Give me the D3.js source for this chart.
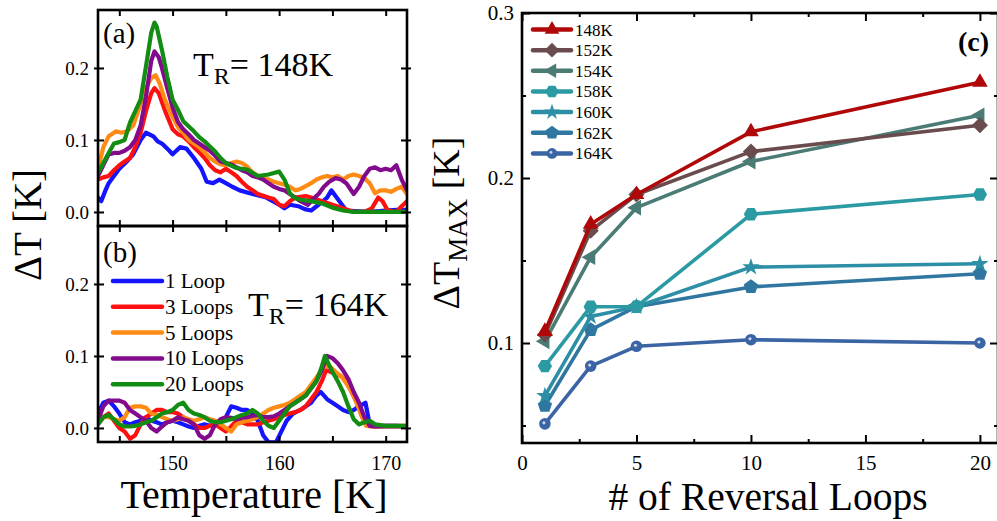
<!DOCTYPE html>
<html><head><meta charset="utf-8">
<script src="https://cdn.jsdelivr.net/npm/d3@7"></script>
<style>body{margin:0;background:#fff}svg{display:block}text{font-family:"Liberation Serif","Times New Roman",serif;fill:#000}</style>
</head><body><svg id="c" width="997" height="521"></svg>
<script>
// ---------- Panel (a)/(b) data: [T (K), ΔT (K)] ----------
const loopLabels = ["1 Loop","3 Loops","5 Loops","10 Loops","20 Loops"];
const loopColors = ["#1414ff","#ff1010","#ff8a14","#820a8c","#138c13"];
const xTicksAB = [145,150,155,160,165,170];
const xLabelsAB = [150,160,170];
const yTicksAB = [0.0,0.1,0.2];

const a_1Loop = [[143,0.02],[143.3,0.015],[143.7,0.03],[144,0.04],[144.5,0.05],[145,0.06],[145.7,0.07],[146.3,0.08],[147,0.1],[147.5,0.11],[148.2,0.105],[148.6,0.098],[149,0.095],[149.7,0.085],[150,0.08],[150.7,0.09],[151.3,0.088],[152,0.075],[152.7,0.06],[153.2,0.042],[153.8,0.04],[154.4,0.045],[155,0.04],[155.6,0.035],[156.3,0.03],[157.5,0.025],[158.8,0.02],[160,0.01],[160.5,0.005],[161,0.01],[161.8,0.008],[162.4,0.004],[163,0.002],[163.7,0.01],[164.5,0.02],[164.9,0.03],[165.5,0.018],[166.3,0.002],[167.5,0.001],[168.5,0.0],[170,0.002],[171,0.003],[172,0.003]];
const a_3Loops = [[143,0.045],[143.5,0.048],[144,0.05],[144.5,0.058],[145,0.065],[145.5,0.07],[146,0.075],[146.5,0.09],[147,0.11],[147.5,0.14],[148,0.165],[148.3,0.172],[148.7,0.165],[149.3,0.14],[150,0.115],[150.5,0.108],[151,0.105],[151.5,0.098],[152,0.09],[152.5,0.083],[153,0.075],[153.5,0.065],[154,0.058],[154.5,0.055],[155,0.06],[155.5,0.055],[156,0.05],[156.5,0.042],[157,0.035],[157.5,0.03],[158,0.025],[159,0.02],[159.5,0.018],[160,0.01],[160.5,0.008],[161,0.015],[161.5,0.02],[162.5,0.022],[163,0.02],[164,0.015],[165,0.01],[166,0.005],[167,0.0],[168,0.0],[168.7,0.005],[169.3,0.02],[169.7,0.015],[170.2,0.002],[171,0.0],[171.5,0.008],[172,0.015]];
const a_5Loops = [[143,0.06],[143.5,0.09],[144,0.105],[144.7,0.112],[145.2,0.11],[145.7,0.112],[146.3,0.12],[147,0.15],[147.5,0.172],[148,0.186],[148.4,0.19],[148.8,0.178],[149.3,0.155],[149.8,0.138],[150.5,0.118],[151,0.11],[151.5,0.1],[152,0.095],[152.5,0.09],[153,0.083],[153.5,0.075],[154,0.07],[154.5,0.066],[155,0.065],[155.5,0.068],[156,0.07],[156.5,0.068],[157,0.063],[157.5,0.055],[158,0.05],[158.5,0.048],[159,0.045],[159.5,0.042],[160,0.04],[160.5,0.038],[161,0.035],[161.5,0.03],[162,0.032],[162.5,0.036],[163,0.04],[163.5,0.045],[164,0.048],[164.5,0.05],[165,0.048],[165.5,0.05],[166,0.045],[166.5,0.05],[167,0.052],[167.5,0.05],[168,0.047],[168.5,0.04],[169,0.026],[169.5,0.03],[170,0.03],[170.5,0.028],[171,0.032],[171.5,0.035],[172,0.025]];
const a_10Loops = [[143,0.05],[143.5,0.065],[144,0.08],[144.5,0.082],[145,0.082],[145.5,0.085],[146,0.09],[146.5,0.1],[147,0.12],[147.5,0.16],[148,0.21],[148.3,0.223],[148.7,0.215],[149,0.2],[149.5,0.172],[150,0.145],[150.5,0.125],[151,0.115],[151.5,0.108],[152,0.1],[152.5,0.095],[153,0.09],[153.5,0.085],[154,0.078],[154.5,0.07],[155,0.068],[155.5,0.066],[156,0.062],[156.5,0.058],[157,0.055],[157.5,0.05],[158,0.048],[158.5,0.045],[159,0.04],[159.5,0.035],[160,0.032],[160.5,0.03],[161,0.025],[161.5,0.02],[162,0.015],[162.7,0.01],[163.2,0.018],[163.7,0.025],[164.2,0.035],[164.7,0.042],[165.3,0.047],[165.8,0.045],[166.3,0.04],[167,0.025],[167.5,0.035],[168,0.05],[168.5,0.06],[169,0.062],[169.5,0.058],[170,0.06],[170.5,0.058],[171,0.065],[171.5,0.045],[172,0.03]];
const a_20Loops = [[143,0.054],[143.5,0.068],[144,0.082],[144.5,0.095],[145,0.097],[145.5,0.1],[146,0.124],[146.5,0.14],[147,0.156],[147.5,0.202],[148,0.249],[148.3,0.263],[148.5,0.258],[149,0.225],[149.5,0.188],[150,0.156],[150.5,0.142],[151,0.126],[151.5,0.119],[152,0.112],[152.5,0.104],[153,0.098],[153.5,0.091],[154,0.084],[154.5,0.075],[155,0.068],[156,0.061],[157,0.059],[158,0.05],[159,0.052],[159.5,0.054],[160,0.056],[160.5,0.045],[161,0.026],[161.5,0.019],[162,0.017],[163,0.015],[164,0.012],[165,0.006],[166,0.002],[167,0.0],[168,0.0],[169,0.0],[170,0.0],[171,0.0],[172,0.0]];

const b_1Loop = [[143,0.02],[143.5,0.035],[144,0.038],[144.5,0.03],[145,0.02],[145.5,0.008],[146,0.005],[146.5,0.008],[147,0.01],[147.5,0.015],[148,0.01],[148.5,0.008],[149,0.005],[149.5,0.008],[150,0.01],[150.5,0.008],[151,0.005],[151.5,0.002],[152,0.0],[152.5,0.003],[153,0.005],[153.5,0.003],[154,0.005],[154.5,0.01],[155,0.015],[155.5,0.03],[156,0.028],[156.5,0.025],[157,0.025],[157.5,0.02],[158,0.01],[158.5,-0.01],[159,-0.02],[159.7,-0.02],[160.2,-0.005],[160.7,0.01],[161.3,0.02],[162,0.025],[162.5,0.03],[163,0.035],[163.5,0.045],[163.9,0.05],[164.5,0.04],[165,0.035],[165.5,0.03],[166,0.025],[166.5,0.022],[167,0.025],[167.5,0.03],[168.1,0.035],[168.5,0.005],[169,0.003],[170,0.003],[171,0.003],[172,0.002]];
const b_3Loops = [[143,0.005],[143.5,0.015],[144,0.02],[144.5,0.01],[145,0.0],[145.5,-0.005],[146,-0.015],[146.5,-0.01],[147,0.005],[147.5,0.015],[148,0.02],[148.5,0.025],[149,0.025],[149.5,0.022],[150,0.022],[150.5,0.02],[151,0.015],[151.5,0.01],[152,0.005],[152.5,0.0],[153,0.0],[153.5,0.003],[154,0.005],[154.5,0.0],[155,-0.005],[155.5,0.002],[156,0.01],[156.5,0.008],[157,0.005],[157.5,0.005],[158,0.005],[158.5,0.008],[159,0.01],[159.5,0.012],[160,0.015],[160.5,0.018],[161,0.02],[161.5,0.022],[162,0.025],[162.5,0.03],[163,0.04],[163.5,0.05],[164,0.065],[164.4,0.08],[164.8,0.078],[165.3,0.075],[165.8,0.072],[166.3,0.065],[166.8,0.05],[167.3,0.035],[167.8,0.015],[168.2,0.003],[169,0.002],[170,0.003],[172,0.003]];
const b_5Loops = [[143,0.01],[143.5,0.015],[144,0.015],[144.5,0.012],[145,0.01],[145.5,0.015],[146,0.028],[146.5,0.03],[147,0.03],[147.5,0.028],[148,0.02],[148.5,0.018],[149,0.015],[149.5,0.012],[150,0.01],[150.5,0.012],[151,0.015],[151.5,0.012],[152,0.01],[152.5,0.012],[153,0.015],[153.5,0.012],[154,0.01],[154.5,0.005],[155,0.0],[155.5,-0.005],[156,0.005],[156.5,0.008],[157,0.01],[157.5,0.012],[158,0.015],[158.5,0.02],[159,0.025],[159.5,0.028],[160,0.03],[160.5,0.032],[161,0.035],[161.5,0.04],[162,0.045],[162.5,0.05],[163,0.06],[163.5,0.07],[164,0.08],[164.4,0.088],[164.8,0.085],[165.3,0.078],[165.8,0.072],[166.3,0.062],[166.9,0.048],[167.4,0.03],[167.8,0.015],[168.2,0.003],[169,0.002],[170,0.002],[172,0.002]];
const b_10Loops = [[143,0.01],[143.5,0.03],[144,0.038],[144.5,0.038],[145,0.038],[145.5,0.035],[146,0.025],[146.5,0.02],[147,0.015],[147.5,0.01],[148,0.0],[148.5,-0.005],[149,0.002],[149.5,0.008],[150,0.01],[150.5,0.015],[151,0.012],[151.5,0.01],[152,0.005],[152.5,-0.01],[153,-0.015],[153.5,-0.01],[154,0.005],[154.5,0.012],[155,0.015],[155.5,0.014],[156,0.012],[156.5,0.014],[157,0.015],[157.5,0.017],[158,0.018],[158.5,0.015],[159,0.015],[159.5,0.016],[160,0.02],[160.5,0.025],[161,0.03],[161.5,0.035],[162,0.04],[162.5,0.045],[163,0.055],[163.5,0.065],[164,0.08],[164.5,0.1],[165,0.097],[165.5,0.09],[166,0.08],[166.5,0.068],[167,0.05],[167.5,0.035],[168,0.015],[168.5,0.003],[169,0.002],[170,0.002],[172,0.002]];
const b_20Loops = [[143,0.005],[143.5,0.015],[144,0.018],[144.5,0.012],[145,0.005],[145.5,0.002],[146,0.002],[146.5,0.003],[147,0.005],[147.5,0.008],[148,0.01],[148.5,0.015],[149,0.02],[149.5,0.022],[150,0.025],[150.5,0.032],[151,0.035],[151.5,0.025],[152,0.02],[152.5,0.018],[153,0.015],[153.5,0.01],[154,0.008],[154.5,0.008],[155,0.01],[155.5,0.012],[156,0.015],[156.5,0.018],[157,0.02],[157.5,0.025],[158,0.02],[158.5,0.01],[159,0.003],[159.5,0.0],[160,0.01],[160.5,0.02],[161,0.03],[161.5,0.035],[162,0.04],[162.5,0.045],[163,0.055],[163.5,0.065],[164,0.085],[164.3,0.1],[164.6,0.09],[165,0.078],[165.5,0.065],[166,0.05],[166.5,0.03],[167,0.012],[167.5,0.005],[168,0.008],[168.5,0.01],[169,0.005],[170,0.003],[171,0.003],[172,0.003]];

// ---------- Panel (c) data ----------
const loops = [1,3,5,10,20];
const tempLabels = ["148K","152K","154K","158K","160K","162K","164K"];
const tempColors = ["#b00808","#6a4c4e","#4a7b75","#2b9aa2","#2c8fa6","#2f77a0","#3b64a4"];
const tempMarkers = ["triUp","diamond","triLeft","hexagon","star","pentagon","sphere"];
const dT148 = [0.107,0.172,0.190,0.228,0.258];
const dT152 = [0.105,0.168,0.190,0.216,0.232];
const dT154 = [0.101,0.152,0.182,0.210,0.238];
const dT158 = [0.086,0.122,0.122,0.178,0.190];
const dT160 = [0.068,0.116,0.122,0.146,0.148];
const dT162 = [0.062,0.108,0.122,0.134,0.142];
const dT164 = [0.051,0.086,0.098,0.102,0.100];
const xTicksC = [0,5,10,15,20];
const xMinorC = [2.5,7.5,12.5,17.5];
const yTicksC = [0.1,0.2,0.3];
const yMinorC = [0.05,0.15,0.25];

const svg = d3.select("#c");
const FONT = '"Liberation Serif","Times New Roman",serif';

// ===== panels a & b =====
const L=98, R=407;
const x = d3.scaleLinear().domain([143,172]).range([L,R]);
const panels = [
  {top:10, bot:226, data:[a_1Loop,a_3Loops,a_5Loops,a_10Loops,a_20Loops], tag:"(a)", tagY:43, tr:"148K", trX:193, trY:76, id:"ca"},
  {top:226, bot:442, data:[b_1Loop,b_3Loops,b_5Loops,b_10Loops,b_20Loops], tag:"(b)", tagY:262, tr:"164K", trX:248, trY:316, id:"cb"}
];
panels.forEach((p,pi)=>{
  const y = d3.scaleLinear().domain([-0.0195,0.2805]).range([p.bot,p.top]);
  svg.append("clipPath").attr("id",p.id).append("rect").attr("x",L).attr("y",p.top).attr("width",R-L).attr("height",p.bot-p.top);
  const line = d3.line().x(d=>x(d[0])).y(d=>y(d[1])).curve(d3.curveLinear);
  const g = svg.append("g").attr("clip-path",`url(#${p.id})`);
  p.data.forEach((s,i)=>{
    g.append("path").attr("d",line(s)).attr("fill","none").attr("stroke",loopColors[i])
      .attr("stroke-width",4.2).attr("stroke-linejoin","round").attr("stroke-linecap","round");
  });
  const ax = (gen, tx, ty) => svg.append("g").attr("transform",`translate(${tx},${ty})`).call(gen);
  const yl = ax(d3.axisLeft(y).tickValues(yTicksAB).tickSize(-6).tickFormat(d3.format(".1f")), L, 0);
  yl.selectAll("text").attr("x",-9).attr("dy","0.35em").style("font-family",FONT).style("font-size","19px");
  ax(d3.axisLeft(y).tickValues(yTicksAB).tickSize(4).tickFormat(""), L, 0);
  ax(d3.axisRight(y).tickValues(yTicksAB).tickSize(-6).tickFormat(""), R, 0);
  ax(d3.axisRight(y).tickValues(yTicksAB).tickSize(4).tickFormat(""), R, 0);
  ax(d3.axisTop(x).tickValues(xTicksAB).tickSize(-6).tickFormat(""), 0, p.top);
  const xb = ax(d3.axisBottom(x).tickValues(xTicksAB).tickSize(-6).tickFormat(d=> (pi===1 && xLabelsAB.includes(d)) ? d : ""), 0, p.bot);
  xb.selectAll("text").attr("y",14).attr("dy","0.71em").style("font-family",FONT).style("font-size","20px");
  svg.selectAll(".domain").remove();
  svg.selectAll(".tick line").attr("stroke","#000").attr("stroke-width",2);
  svg.append("rect").attr("x",L).attr("y",p.top).attr("width",R-L).attr("height",p.bot-p.top)
    .attr("fill","none").attr("stroke","#000").attr("stroke-width",2.6);
  svg.append("text").attr("x",103).attr("y",p.tagY).style("font-size","29px").text(p.tag);
  const t = svg.append("text").attr("x",p.trX).attr("y",p.trY).style("font-size","34px");
  t.append("tspan").text("T");
  t.append("tspan").attr("dy",8).style("font-size","24px").text("R");
  t.append("tspan").attr("dy",-8).text("= "+p.tr);
});
// legend in (b)
loopLabels.forEach((lab,i)=>{
  const yy = 281 + i*25.8;
  svg.append("line").attr("x1",113).attr("x2",162).attr("y1",yy).attr("y2",yy)
    .attr("stroke",loopColors[i]).attr("stroke-width",4.5).attr("stroke-linecap","round");
  svg.append("text").attr("x",165).attr("y",yy+7).style("font-size","21px").text(lab);
});
svg.append("text").attr("transform","translate(41,225) rotate(-90)").attr("text-anchor","middle")
  .style("font-size","39px").text("ΔT [K]");
svg.append("text").attr("x",254).attr("y",508).attr("text-anchor","middle").style("font-size","40px").text("Temperature [K]");

// ===== panel c =====
const CL=522, CR=998, CT=13, CB=443;
const xc = d3.scaleLinear().domain([0,20.79]).range([CL,CR]);
const yc = d3.scaleLinear().domain([0.0394,0.3]).range([CB,CT]);
const series = [dT148,dT152,dT154,dT158,dT160,dT162,dT164];

function poly(n, r, rot){ const pts=[]; for(let k=0;k<n;k++){const a=rot+2*Math.PI*k/n; pts.push([r*Math.cos(a), r*Math.sin(a)]);} return "M"+pts.map(p=>p.join(",")).join("L")+"Z"; }
const markerPath = {
  triUp: s=>poly(3,s*0.7,-Math.PI/2),
  triLeft: s=>poly(3,s*0.7,Math.PI),
  diamond: s=>poly(4,s*0.62,-Math.PI/2),
  hexagon: s=>poly(6,s*0.55,0),
  pentagon: s=>poly(5,s*0.58,-Math.PI/2),
  star: s=>d3.symbol().type(d3.symbolStar).size(s*s*0.55)(),
  sphere: s=>d3.symbol().type(d3.symbolCircle).size(s*s*0.62)()
};
function drawMarker(g, type, cx, cy, col, s){
  g.append("path").attr("d",markerPath[type](s)).attr("transform",`translate(${cx},${cy})`).attr("fill",col);
  if(type==="sphere"){
    g.append("circle").attr("cx",cx-1).attr("cy",cy-1).attr("r",s*0.12).attr("fill","#c9d8ee");
  }
}
const lineC = d3.line().x((d,i)=>xc(loops[i])).y(d=>yc(d));
const gc = svg.append("g");
for(let k=series.length-1;k>=0;k--){
  gc.append("path").attr("d",lineC(series[k])).attr("fill","none").attr("stroke",tempColors[k])
    .attr("stroke-width",3.6).attr("stroke-linejoin","round");
  series[k].forEach((v,i)=>drawMarker(gc,tempMarkers[k],xc(loops[i]),yc(v),tempColors[k],13));
}
const axc = (gen, tx, ty) => svg.append("g").attr("transform",`translate(${tx},${ty})`).call(gen);
const xcB = axc(d3.axisBottom(xc).tickValues(xTicksC).tickSize(-8).tickFormat(d3.format("d")), 0, CB);
xcB.selectAll("text").attr("y",12).attr("dy","0.71em").style("font-family",FONT).style("font-size","21px");
axc(d3.axisBottom(xc).tickValues(xMinorC).tickSize(-4).tickFormat(""), 0, CB);
axc(d3.axisTop(xc).tickValues(xTicksC).tickSize(-8).tickFormat(""), 0, CT);
axc(d3.axisTop(xc).tickValues(xMinorC).tickSize(-4).tickFormat(""), 0, CT);
const ycL = axc(d3.axisLeft(yc).tickValues(yTicksC).tickSize(-8).tickFormat(d3.format(".1f")), CL, 0);
ycL.selectAll("text").attr("x",-8).attr("dy","0.3em").style("font-family",FONT).style("font-size","21px");
axc(d3.axisLeft(yc).tickValues(yMinorC.filter(v=>v>0.04)).tickSize(-4).tickFormat(""), CL, 0);
axc(d3.axisRight(yc).tickValues(yTicksC).tickSize(-8).tickFormat(""), CR, 0);
axc(d3.axisRight(yc).tickValues(yMinorC.filter(v=>v>0.04)).tickSize(-4).tickFormat(""), CR, 0);
svg.selectAll(".domain").remove();
svg.selectAll(".tick line").attr("stroke","#000").attr("stroke-width",2);
svg.append("rect").attr("x",CL).attr("y",CT).attr("width",CR-CL).attr("height",CB-CT)
  .attr("fill","none").attr("stroke","#000").attr("stroke-width",2.6);
tempLabels.forEach((lab,i)=>{
  const yy = 29.5 + i*20.65;
  svg.append("line").attr("x1",533).attr("x2",571).attr("y1",yy).attr("y2",yy)
    .attr("stroke",tempColors[i]).attr("stroke-width",4.5).attr("stroke-linecap","round");
  drawMarker(svg,tempMarkers[i],552,yy,tempColors[i],12);
  svg.append("text").attr("x",575).attr("y",yy+6).style("font-size","17px").text(lab);
});
svg.append("text").attr("x",958).attr("y",51).style("font-size","28px").style("font-weight","bold").text("(c)");
const yt = svg.append("text").attr("transform","translate(459,223) rotate(-90)").attr("text-anchor","middle").style("font-size","38px");
yt.append("tspan").text("ΔT");
yt.append("tspan").attr("dy",8).style("font-size","27px").text("MAX");
yt.append("tspan").attr("dy",-8).text(" [K]");
svg.append("text").attr("x",768).attr("y",510).attr("text-anchor","middle").style("font-size","39.5px").text("# of Reversal Loops");
</script></body></html>
